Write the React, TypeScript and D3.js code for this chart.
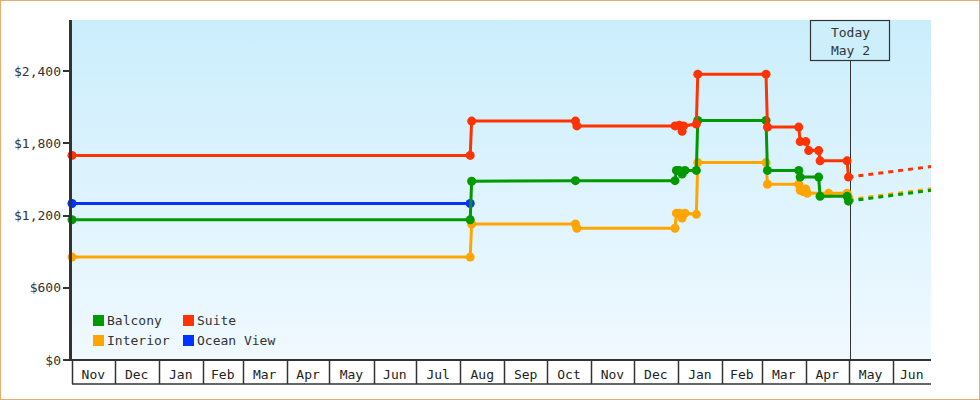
import React from "react";
import * as d3 from "d3";

const months = ["Nov","Dec","Jan","Feb","Mar","Apr","May","Jun","Jul","Aug","Sep","Oct","Nov","Dec","Jan","Feb","Mar","Apr","May","Jun"];
const yTicks = [0, 600, 1200, 1800, 2400];

const suiteDates = ["2021-11-01","2022-08-08","2022-08-09","2022-10-21","2022-10-22","2022-12-30","2023-01-02","2023-01-04","2023-01-05","2023-01-14","2023-01-15","2023-03-04","2023-03-05","2023-03-27","2023-03-28","2023-04-01","2023-04-03","2023-04-10","2023-04-11","2023-04-30","2023-05-01"];
const suiteValues = [1700,1700,1985,1985,1945,1945,1950,1900,1945,1960,2375,2375,1935,1935,1815,1815,1740,1740,1655,1655,1520];

const balconyDates = ["2021-11-01","2022-08-08","2022-08-09","2022-10-21","2022-12-30","2022-12-31","2023-01-02","2023-01-04","2023-01-06","2023-01-14","2023-01-15","2023-03-04","2023-03-05","2023-03-27","2023-03-28","2023-04-10","2023-04-11","2023-04-30","2023-05-01"];
const balconyValues = [1165,1165,1485,1490,1490,1575,1575,1545,1575,1575,1990,1990,1575,1575,1520,1520,1360,1360,1320];

const interiorDates = ["2021-11-01","2022-08-08","2022-08-09","2022-10-21","2022-10-22","2022-12-30","2022-12-31","2023-01-02","2023-01-04","2023-01-06","2023-01-14","2023-01-15","2023-03-04","2023-03-05","2023-03-27","2023-03-28","2023-03-30","2023-04-01","2023-04-02","2023-04-17","2023-04-30","2023-05-01"];
const interiorValues = [855,855,1130,1130,1095,1095,1220,1220,1180,1220,1210,1640,1640,1460,1460,1410,1400,1420,1385,1385,1385,1350];

const oceanDates = ["2021-11-01","2022-08-08"];
const oceanValues = [1300,1300];

const forecastDates = ["2023-05-01","2023-06-28"];
const suiteForecast = [1520,1607];
const balconyForecast = [1320,1410];
const interiorForecast = [1332,1422];

const W = 980, H = 400;
const left = 72, right = 931, top = 20, bottom = 360;

const parse = (s: string) => { const [y, m, d] = s.split("-").map(Number); return new Date(y, m - 1, d); };

export default function App() {
  const x = d3.scaleTime().domain([parse("2021-11-01"), parse("2023-06-28")]).range([left, right]);
  const y = d3.scaleLinear().domain([0, 2825]).range([bottom, top]);
  const line = d3.line<[Date, number]>().x(d => x(d[0])).y(d => y(d[1]));
  const font = "'DejaVu Sans Mono', monospace";

  const series = [
    { name: "Ocean View", color: "#0033ff", dates: oceanDates, values: oceanValues, fc: null as number[] | null },
    { name: "Interior", color: "#ffa500", dates: interiorDates, values: interiorValues, fc: interiorForecast },
    { name: "Balcony", color: "#009900", dates: balconyDates, values: balconyValues, fc: balconyForecast },
    { name: "Suite", color: "#ff3300", dates: suiteDates, values: suiteValues, fc: suiteForecast },
  ];

  const monthStarts = months.map((_, i) => new Date(2021, 10 + i, 1));
  const today = parse("2023-05-02");
  const tx = Math.round(x(today)) + 0.5;
  const fmt = d3.format("$,");

  const legend = [
    { name: "Balcony", color: "#009900", lx: 93, ly: 315 },
    { name: "Suite", color: "#ff3300", lx: 183, ly: 315 },
    { name: "Interior", color: "#ffa500", lx: 93, ly: 335 },
    { name: "Ocean View", color: "#0033ff", lx: 183, ly: 335 },
  ];

  return (
    <svg width={W} height={H} style={{ position: "absolute", left: 0, top: 0 }} fontFamily={font}>
      <defs>
        <linearGradient id="bg" x1="0" y1="0" x2="0" y2="1">
          <stop offset="0" stopColor="#cbeefc" />
          <stop offset="1" stopColor="#f0f9ff" />
        </linearGradient>
        <clipPath id="clip"><rect x={left - 6} y={top - 6} width={right - left + 6} height={bottom - top + 12} /></clipPath>
      </defs>
      <rect x={0.5} y={0.5} width={W - 1} height={H - 1} fill="#fff" stroke="#e8ac6e" />
      <rect x={left} y={top} width={right - left} height={bottom - top} fill="url(#bg)" />

      {legend.map(l => (
        <g key={l.name}>
          <rect x={l.lx} y={l.ly} width={11} height={11} fill={l.color} />
          <text x={l.lx + 14} y={l.ly + 10} fontSize={13} fill="#333">{l.name}</text>
        </g>
      ))}

      <line x1={tx} x2={tx} y1={61} y2={bottom} stroke="#333" strokeWidth={1} />

      <g clipPath="url(#clip)">
        {series.map(s => {
          const pts: [Date, number][] = s.dates.map((d, i) => [parse(d), s.values[i]]);
          const fpts: [Date, number][] | null = s.fc ? forecastDates.map((d, i) => [parse(d), s.fc![i]]) : null;
          return (
            <g key={s.name}>
              {fpts && <path d={line(fpts)!} fill="none" stroke={s.color} strokeWidth={3} strokeDasharray="5,5" />}
              <path d={line(pts)!} fill="none" stroke={s.color} strokeWidth={3} strokeLinejoin="miter" />
              {pts.map((p, i) => (
                <circle key={i} cx={x(p[0])} cy={y(p[1])} r={4.5} fill={s.color} />
              ))}
            </g>
          );
        })}
      </g>

      <line x1={70.5} x2={70.5} y1={top} y2={bottom + 1} stroke="#333" strokeWidth={3} />
      {yTicks.map(t => (
        <g key={t}>
          <line x1={63} x2={70} y1={Math.round(y(t))} y2={Math.round(y(t))} stroke="#333" strokeWidth={2} />
          <text x={61} y={y(t) + 4.5} fontSize={13} textAnchor="end" fill="#333">{fmt(t)}</text>
        </g>
      ))}

      <line x1={left - 1} x2={right} y1={bottom} y2={bottom} stroke="#333" strokeWidth={2} />
      <line x1={left} x2={right} y1={384} y2={384} stroke="#333" strokeWidth={1.5} />
      {monthStarts.map((m, i) => {
        const x0 = Math.max(left, x(m));
        const next = new Date(m.getFullYear(), m.getMonth() + 1, 1);
        const x1 = Math.min(right, x(next));
        return (
          <g key={i}>
            <line x1={Math.round(x0) + 0.5} x2={Math.round(x0) + 0.5} y1={bottom} y2={384} stroke="#333" strokeWidth={1.5} />
            <text x={(x0 + x1) / 2} y={379} fontSize={13} textAnchor="middle" fill="#222">{months[i]}</text>
          </g>
        );
      })}

      <rect x={tx - 40} y={20.5} width={79} height={40} fill="#cdeffc" stroke="#333" strokeWidth={1.2} />
      <text x={tx} y={37} fontSize={13} textAnchor="middle" fill="#333">Today</text>
      <text x={tx} y={55} fontSize={13} textAnchor="middle" fill="#333">May 2</text>
    </svg>
  );
}
